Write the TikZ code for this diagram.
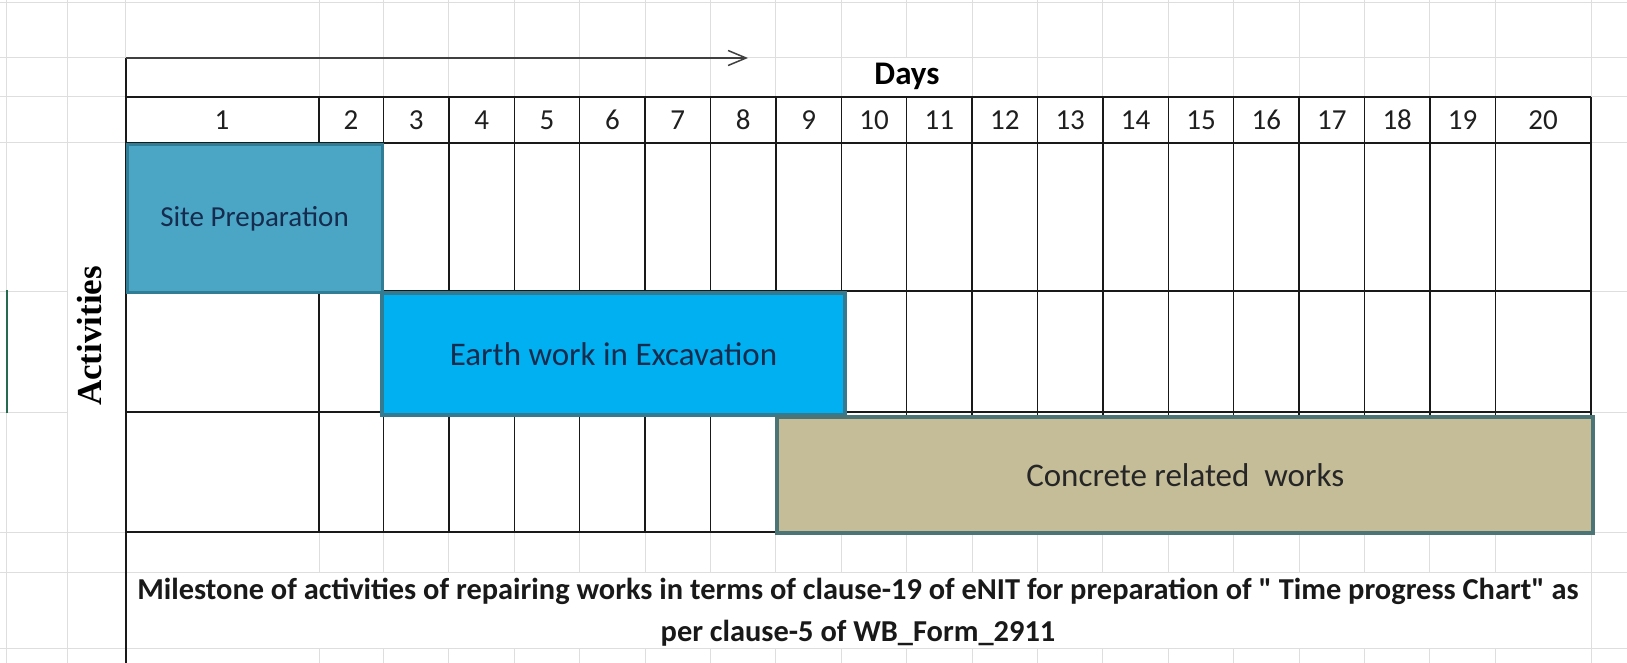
\documentclass[tikz,border=0pt]{standalone}
\usepackage{fontspec}
\setmainfont{Carlito}[Ligatures=TeXOff]
\newfontfamily\serifbold{Liberation Serif}
\usetikzlibrary{arrows.meta,positioning}

\definecolor{sitefill}{RGB}{75,166,198}
\definecolor{siteedge}{RGB}{49,125,150}
\definecolor{earthfill}{RGB}{0,176,240}
\definecolor{earthedge}{RGB}{52,122,145}
\definecolor{concfill}{RGB}{196,189,151}
\definecolor{concedge}{RGB}{74,116,118}
\definecolor{xlgray}{RGB}{222,222,222}
\definecolor{xlgreen}{RGB}{38,107,80}
\definecolor{navytext}{RGB}{22,44,78}

\tikzset{
  xlgrid/.style={draw=xlgray, line width=0.5pt},
  cellline/.style={draw=black!90, line width=0.7pt},
  daynum/.style={font=\fontsize{14.5}{16}\selectfont, text=black!88},
  barbox/.style={anchor=north west, inner sep=0pt, text=navytext},
}

\begin{document}
\begin{tikzpicture}[x=0.5pt,y=-0.5pt]
\useasboundingbox (0,0) rectangle (1627,663);
\fill[white] (0,0) rectangle (1627,663);
% sheet grid
\foreach \gx in {6,67,125.5,319,1591} \draw[xlgrid] (\gx,0) -- (\gx,663);
\foreach \k in {0,...,17} \draw[xlgrid] ({383.5+65.4*\k},0) -- ({383.5+65.4*\k},663);
\foreach \gy in {3,58,97,143,291,412,532,572,648} \draw[xlgrid] (0,\gy) -- (1627,\gy);
% merged cells
\fill[white] (67.8,143.5) rectangle (124.8,531.5);
\fill[white] (126.2,572.5) rectangle (1590.5,647.5);
\fill[white] (841.5,58.5) rectangle (971.5,96.5);
\draw[xlgreen, line width=1pt] (7,290) -- (7,413);

% chart frame
\draw[cellline, line width=1pt] (125.5,58) -- (125.5,663);
\foreach \hy in {97,143,291,412,532} \draw[cellline] (125.5,\hy) -- (1591,\hy);
\draw[cellline] (1591,97) -- (1591,532);
\draw[cellline] (319,97) -- (319,532);
\foreach \k in {0,...,17} \draw[cellline] ({383.5+65.4*\k},97) -- ({383.5+65.4*\k},532);

% day axis
\coordinate (axisstart) at (125.5,58);
\coordinate (axisend) at (748,58);
\draw[black!75, line width=0.75pt, -{Straight Barb[length=9pt,width=7.5pt]}] (axisstart) -- (axisend);
\node[font=\bfseries\fontsize{16.5}{18}\selectfont] (days) at (907,76) {Days};

% day numbers
\node[daynum] (day1) at (222,120) {1};
\node[daynum] (day2) at (351,120) {2};
\foreach \d in {3,...,19} \node[daynum] (day\d) at ({416.2+65.4*(\d-3)},120) {\d};
\node[daynum] (day20) at (1543,120) {20};

\node[rotate=90, font=\serifbold\bfseries\fontsize{17.5}{20}\selectfont] (activities) at (90,336) {Activities};

% activity bars
\node[barbox, fill=sitefill, draw=siteedge, line width=1.5pt, minimum width=127.5pt, minimum height=74pt,
  font=\fontsize{14.5}{16}\selectfont] (site) at (125.5,143) {Site Preparation};
\node[barbox, fill=earthfill, draw=earthedge, line width=2pt, minimum width=231.5pt, minimum height=61pt,
  font=\fontsize{16.5}{18}\selectfont] (earth) at (380,291) {Earth work in Excavation};
\node[barbox, fill=concfill, draw=concedge, line width=2.2pt, minimum width=408pt, minimum height=58pt,
  font=\fontsize{16.5}{18}\selectfont, text=black!85] (concrete) at (775,415) {Concrete related~~works};

% caption
\node[font=\bfseries\fontsize{15.2}{21}\selectfont, align=center, text=black!90] (caption) at (858,612)
  {Milestone of activities of repairing works in terms of clause-19 of eNIT for preparation of " Time progress Chart" as\\
   per clause-5 of WB\_Form\_2911};
\end{tikzpicture}
\end{document}
